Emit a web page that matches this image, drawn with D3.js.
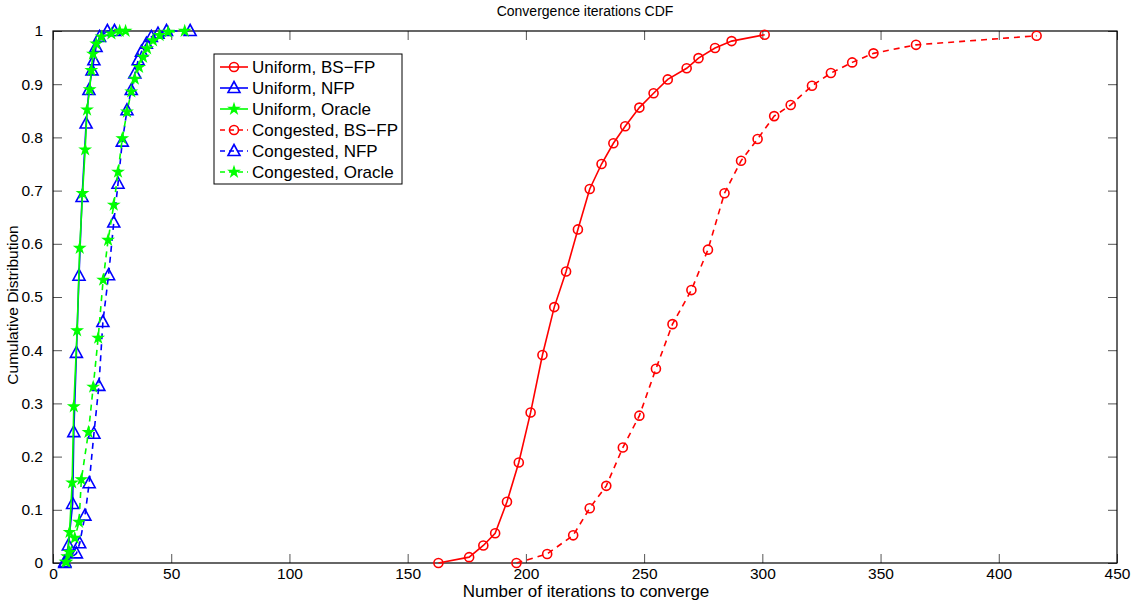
<!DOCTYPE html>
<html>
<head>
<meta charset="utf-8">
<script src="https://cdn.jsdelivr.net/npm/d3@7"></script>
<style>
  body { margin: 0; background: #fff; }
  text { font-family: "Liberation Sans", Arial, sans-serif; fill: #000; }
</style>
</head>
<body>
<svg id="chart" width="1132" height="602"></svg>
<script>
// tick labels
const xTicks = [0, 50, 100, 150, 200, 250, 300, 350, 400, 450];
const yTicks = [0, 0.1, 0.2, 0.3, 0.4, 0.5, 0.6, 0.7, 0.8, 0.9, 1];

// series
const uniformBsfpX = [163, 176, 182, 187, 192, 197, 202, 207, 212, 217, 222, 227, 232, 237, 242, 248, 254, 260, 268, 273, 280, 287, 301];
const uniformBsfpY = [0, 0.011, 0.033, 0.056, 0.115, 0.189, 0.283, 0.391, 0.481, 0.548, 0.627, 0.703, 0.75, 0.789, 0.821, 0.856, 0.883, 0.909, 0.93, 0.949, 0.968, 0.981, 0.993];

const uniformNfpX = [5, 6.5, 8.3, 8.8, 9.9, 11, 12.3, 14, 15.2, 16.5, 17.3, 18.2, 19.7, 23, 26];
const uniformNfpY = [0.002, 0.033, 0.111, 0.246, 0.395, 0.54, 0.688, 0.826, 0.889, 0.926, 0.945, 0.97, 0.989, 1, 1];

const uniformOracleX = [5.3, 6, 7, 8.1, 8.8, 10.2, 11.3, 12.5, 13.6, 14.4, 15.5, 16.2, 16.9, 18.3, 20.5, 24.7, 28.2, 30.7];
const uniformOracleY = [0.002, 0.012, 0.058, 0.151, 0.294, 0.437, 0.592, 0.695, 0.777, 0.852, 0.89, 0.926, 0.957, 0.976, 0.989, 0.995, 1, 1];

const congestedBsfpX = [196, 209, 220, 227, 234, 241, 248, 255, 262, 270, 277, 284, 291, 298, 305, 312, 321, 329, 338, 347, 365, 416];
const congestedBsfpY = [0, 0.017, 0.052, 0.103, 0.145, 0.217, 0.277, 0.365, 0.449, 0.513, 0.589, 0.695, 0.756, 0.797, 0.84, 0.861, 0.897, 0.921, 0.941, 0.958, 0.974, 0.991];

const congestedNfpX = [5, 9.9, 11.3, 13.5, 15.3, 17.3, 19.4, 21.1, 23.5, 25.7, 27.5, 29.3, 31.3, 33.1, 34.6, 36, 37.4, 39.5, 41.6, 44.4, 48, 58];
const congestedNfpY = [0, 0.018, 0.037, 0.089, 0.15, 0.243, 0.333, 0.453, 0.541, 0.64, 0.713, 0.792, 0.851, 0.889, 0.92, 0.945, 0.961, 0.976, 0.989, 0.995, 1, 1];

const congestedOracleX = [5.7, 7, 9.2, 11, 12, 15, 17, 19.1, 21.2, 23.3, 25.7, 27.5, 29.3, 31.3, 33.1, 34.6, 36.4, 38.1, 39.8, 42.3, 45.1, 48.7, 55.7];
const congestedOracleY = [0.002, 0.02, 0.047, 0.077, 0.157, 0.246, 0.331, 0.423, 0.532, 0.607, 0.673, 0.735, 0.798, 0.848, 0.886, 0.91, 0.932, 0.951, 0.967, 0.982, 0.992, 0.998, 1];

const seriesNames = ["Uniform, BS\u2212FP", "Uniform, NFP", "Uniform, Oracle", "Congested, BS\u2212FP", "Congested, NFP", "Congested, Oracle"];

const series = [
    {name: seriesNames[0], xs: uniformBsfpX, ys: uniformBsfpY, color: "#ff0000", marker: "circle", dashed: false},
    {name: seriesNames[1], xs: uniformNfpX, ys: uniformNfpY, color: "#0000ff", marker: "triangle", dashed: false},
    {name: seriesNames[2], xs: uniformOracleX, ys: uniformOracleY, color: "#00ff00", marker: "star", dashed: false},
    {name: seriesNames[3], xs: congestedBsfpX, ys: congestedBsfpY, color: "#ff0000", marker: "circle", dashed: true},
    {name: seriesNames[4], xs: congestedNfpX, ys: congestedNfpY, color: "#0000ff", marker: "triangle", dashed: true},
    {name: seriesNames[5], xs: congestedOracleX, ys: congestedOracleY, color: "#00ff00", marker: "star", dashed: true}
];

const svg = d3.select("#chart");
const plotLeft = 53, plotRight = 1117, plotTop = 31, plotBottom = 563;

const x = d3.scaleLinear().domain([0, 450]).range([plotLeft, plotRight]);
const y = d3.scaleLinear().domain([0, 1]).range([plotBottom, plotTop]);

// axes with inward ticks, MATLAB style
const fmt = d => d3.format("")(d);
svg.append("g")
    .attr("transform", `translate(0,${plotBottom})`)
    .call(d3.axisBottom(x).tickValues(xTicks).tickSize(-9).tickPadding(5).tickFormat(fmt))
    .call(g => g.select(".domain").remove());
svg.append("g")
    .attr("transform", `translate(0,${plotTop})`)
    .call(d3.axisTop(x).tickValues(xTicks).tickSize(-9).tickFormat(""))
    .call(g => g.select(".domain").remove());
svg.append("g")
    .attr("transform", `translate(${plotLeft},0)`)
    .call(d3.axisLeft(y).tickValues(yTicks).tickSize(-9).tickPadding(10).tickFormat(fmt))
    .call(g => g.select(".domain").remove());
svg.append("g")
    .attr("transform", `translate(${plotRight},0)`)
    .call(d3.axisRight(y).tickValues(yTicks).tickSize(-9).tickFormat(""))
    .call(g => g.select(".domain").remove());

svg.selectAll(".tick text").style("font-size", "15.5px").style("font-family", "'Liberation Sans', Arial, sans-serif");
svg.selectAll(".tick line").attr("stroke", "#555");

svg.append("rect")
    .attr("x", plotLeft).attr("y", plotTop)
    .attr("width", plotRight - plotLeft).attr("height", plotBottom - plotTop)
    .attr("fill", "none").attr("stroke", "#000").attr("stroke-width", 1.2);

// marker shapes
function markerPath(type) {
    if (type === "circle") return d3.symbol(d3.symbolCircle, 64)();
    if (type === "triangle") {
        // hollow triangle pointing up
        return "M0,-6.5L6,4.5L-6,4.5Z";
    }
    return d3.symbol(d3.symbolStar, 32)();
}

const line = d3.line();

series.forEach(s => {
    const pts = s.xs.map((v, i) => [x(v), y(s.ys[i])]);
    const g = svg.append("g");
    g.append("path")
        .attr("d", line(pts))
        .attr("fill", "none")
        .attr("stroke", s.color)
        .attr("stroke-width", 1.6)
        .attr("stroke-dasharray", s.dashed ? "6,5" : null);
    g.selectAll("path.mk")
        .data(pts)
        .enter()
        .append("path")
        .attr("class", "mk")
        .attr("transform", d => `translate(${d[0]},${d[1]})`)
        .attr("d", markerPath(s.marker))
        .attr("fill", s.marker === "star" ? s.color : "none")
        .attr("stroke", s.color)
        .attr("stroke-width", s.marker === "star" ? 1.2 : 1.6);
});

// legend
const lg = svg.append("g").attr("transform", "translate(214,54)");
lg.append("rect")
    .attr("width", 188).attr("height", 130)
    .attr("fill", "#fff").attr("stroke", "#000").attr("stroke-width", 1);
series.forEach((s, i) => {
    const ly = 13 + i * 21;
    lg.append("line")
        .attr("x1", 6).attr("x2", 34).attr("y1", ly).attr("y2", ly)
        .attr("stroke", s.color).attr("stroke-width", 1.6)
        .attr("stroke-dasharray", s.dashed ? "5,4" : null);
    lg.append("path")
        .attr("transform", `translate(20,${ly})`)
        .attr("d", markerPath(s.marker))
        .attr("fill", s.marker === "star" ? s.color : "none")
        .attr("stroke", s.color).attr("stroke-width", s.marker === "star" ? 1.2 : 1.6);
    lg.append("text")
        .attr("x", 38).attr("y", ly + 6)
        .style("font-size", "17px")
        .text(s.name);
});

// titles
svg.append("text")
    .attr("x", (plotLeft + plotRight) / 2).attr("y", 16)
    .attr("text-anchor", "middle")
    .style("font-size", "14px")
    .text("Convergence iterations CDF");
svg.append("text")
    .attr("x", 586).attr("y", 597)
    .attr("text-anchor", "middle")
    .style("font-size", "17px")
    .text("Number of iterations to converge");
svg.append("text")
    .attr("transform", `translate(18,${(plotTop + plotBottom) / 2 + 8}) rotate(-90)`)
    .attr("text-anchor", "middle")
    .style("font-size", "15.5px")
    .text("Cumulative Distribution");
</script>
</body>
</html>
